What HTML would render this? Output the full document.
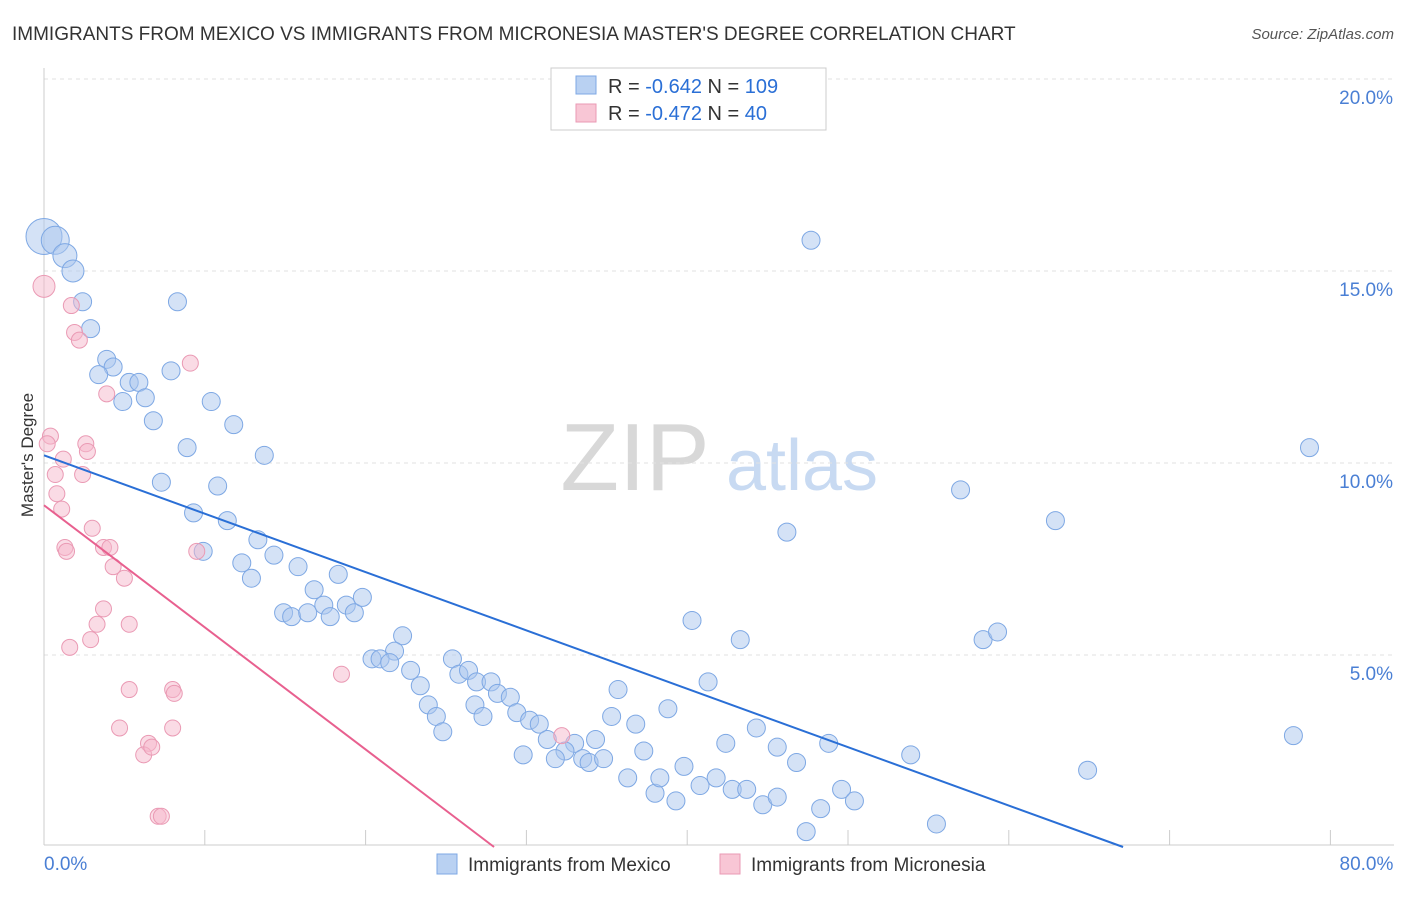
<!DOCTYPE html>
<html><head><meta charset="utf-8"><style>
body{margin:0;background:#fff;font-family:"Liberation Sans",sans-serif;}
svg text{font-family:"Liberation Sans",sans-serif;}
</style></head><body>
<svg id="chart" width="1406" height="892" viewBox="0 0 1406 892">
<text x="12" y="40" font-size="19" fill="#333">IMMIGRANTS FROM MEXICO VS IMMIGRANTS FROM MICRONESIA MASTER'S DEGREE CORRELATION CHART</text>
<text x="1394" y="39" font-size="15" fill="#555" text-anchor="end" font-style="italic">Source: ZipAtlas.com</text>
<text transform="translate(33,455) rotate(-90)" font-size="17" fill="#333" text-anchor="middle">Master's Degree</text>
<g>
<text x="635" y="490" font-size="96" fill="#d8d8d8" text-anchor="middle" font-family="Liberation Serif, serif">ZIP</text>
<text x="802" y="490" font-size="72" fill="#c8daf2" text-anchor="middle">atlas</text>
</g>
<g id="grid"></g><g id="axes"></g><g id="pts"></g><g id="lines"></g>
<g>
<rect x="551" y="68" width="275" height="62" fill="#fff" stroke="#ccc"/>
<rect x="576" y="76" width="20" height="18" fill="#b9d1f2" stroke="#7ea8e4"/>
<rect x="576" y="104" width="20" height="18" fill="#f8c6d5" stroke="#ea9ab4"/>
<text x="608" y="93" font-size="20" fill="#333">R = <tspan fill="#2a6fd6">-0.642</tspan>   N = <tspan fill="#2a6fd6">109</tspan></text>
<text x="608" y="120" font-size="20" fill="#333">R = <tspan fill="#2a6fd6">-0.472</tspan>   N =  <tspan fill="#2a6fd6"> 40</tspan></text>
</g>
<g>
<rect x="437" y="854" width="20" height="20" fill="#b9d1f2" stroke="#7ea8e4"/>
<text x="468" y="871" font-size="19" fill="#333">Immigrants from Mexico</text>
<rect x="720" y="854" width="20" height="20" fill="#f8c6d5" stroke="#ea9ab4"/>
<text x="751" y="871" font-size="19" fill="#333">Immigrants from Micronesia</text>
</g>
</svg>
<script>
const xTicks=[0,10,20,30,40,50,60,70,80];
const yTicks=[5,10,15,20];
const mexX=[0.0,0.7,1.3,1.8,2.4,2.9,3.9,4.3,3.4,5.3,5.9,4.9,6.3,8.3,7.9,6.8,10.4,11.8,8.9,13.7,7.3,10.8,9.3,11.4,9.9,13.3,12.3,12.9,14.3,15.8,16.8,18.3,14.9,15.4,16.4,17.4,17.8,18.8,19.3,19.8,22.3,21.8,20.4,20.9,21.5,22.8,23.4,25.4,25.8,26.4,23.9,24.4,24.8,26.9,27.8,28.2,29.0,26.8,27.3,29.4,30.2,30.8,31.3,33.0,32.4,31.8,29.8,33.5,33.9,34.3,34.8,35.3,35.7,36.8,37.3,36.3,38.0,38.3,39.3,39.8,38.8,40.3,41.3,40.8,41.8,42.4,42.8,43.7,44.3,43.3,44.7,45.6,45.6,46.8,47.4,48.3,48.8,49.6,50.4,47.7,46.2,53.9,55.5,57.0,58.4,59.3,62.9,64.9,77.7,78.7];
const mexY=[15.9,15.8,15.4,15.0,14.2,13.5,12.7,12.5,12.3,12.1,12.1,11.6,11.7,14.2,12.4,11.1,11.6,11.0,10.4,10.2,9.5,9.4,8.7,8.5,7.7,8.0,7.4,7.0,7.6,7.3,6.7,7.1,6.1,6.0,6.1,6.3,6.0,6.3,6.1,6.5,5.5,5.1,4.9,4.9,4.8,4.6,4.2,4.9,4.5,4.6,3.7,3.4,3.0,4.3,4.3,4.0,3.9,3.7,3.4,3.5,3.3,3.2,2.8,2.7,2.5,2.3,2.4,2.3,2.2,2.8,2.3,3.4,4.1,3.2,2.5,1.8,1.4,1.8,1.2,2.1,3.6,5.9,4.3,1.6,1.8,2.7,1.5,1.5,3.1,5.4,1.1,1.3,2.6,2.2,0.4,1.0,2.7,1.5,1.2,15.8,8.2,2.4,0.6,9.3,5.4,5.6,8.5,2.0,2.9,10.4];
const micX=[0.0,1.7,1.9,2.2,9.1,3.9,0.4,0.2,2.6,2.7,1.2,2.4,0.7,0.8,1.1,3.0,1.3,1.4,3.7,4.1,4.3,5.0,9.5,3.7,3.3,5.3,2.9,1.6,18.5,5.3,8.0,8.1,4.7,8.0,6.5,6.2,6.7,32.2,7.1,7.3];
const micY=[14.6,14.1,13.4,13.2,12.6,11.8,10.7,10.5,10.5,10.3,10.1,9.7,9.7,9.2,8.8,8.3,7.8,7.7,7.8,7.8,7.3,7.0,7.7,6.2,5.8,5.8,5.4,5.2,4.5,4.1,4.1,4.0,3.1,3.1,2.7,2.4,2.6,2.9,0.8,0.8];
const mexTrend=[10.2,-0.152];
const micTrend=[8.9,-0.318];
const X=v=>44+v*16.08, Y=v=>847-v*38.4;
const NS='http://www.w3.org/2000/svg';
function mk(p,t,a){const e=document.createElementNS(NS,t);for(const k in a)e.setAttribute(k,a[k]);p.appendChild(e);return e;}
const grid=document.getElementById('grid'),axes=document.getElementById('axes'),pts=document.getElementById('pts'),lines=document.getElementById('lines');
yTicks.forEach(v=>{
 const l=mk(grid,'line',{x1:44,x2:1394,y1:Y(v),y2:Y(v),stroke:'#e2e2e2','stroke-dasharray':'4,4'});
 
 
 const t=mk(axes,'text',{x:1393,y:Y(v)+25,'font-size':19,fill:'#4a7fd4','text-anchor':'end'});
 t.textContent=v.toFixed(1)+'%';
 
 
});
mk(axes,'line',{x1:44,x2:44,y1:68,y2:845,stroke:'#ccc'});
mk(axes,'line',{x1:44,x2:1394,y1:845,y2:845,stroke:'#ccc'});
xTicks.forEach(v=>{
 const l=mk(axes,'line',{x1:X(v),x2:X(v),y1:830,y2:845,stroke:'#ccc'});
 
 
});
[[0,'start'],[80,'end']].forEach(([v,a])=>{
 const t=mk(axes,'text',{x:v?X(v)+63:X(v),y:870,'font-size':19,fill:'#4a7fd4','text-anchor':a});
 t.textContent=v.toFixed(1)+'%';
 
 
});
mexX.forEach((x,i)=>{
 const r=i==0?18:i==1?14:i==2?12:i==3?11:9;
 const c=mk(pts,'circle',{cx:X(x),cy:Y(mexY[i]),r:r,fill:'rgba(169,198,238,0.5)',stroke:'#7ea8e4','stroke-width':1});
 
 
});
micX.forEach((x,i)=>{
 const c=mk(pts,'circle',{cx:X(x),cy:Y(micY[i]),r:i==0?11:8,fill:'rgba(245,184,203,0.5)',stroke:'#ea9ab4','stroke-width':1});
 
 
});
const x1=-mexTrend[0]/mexTrend[1];
const l1=mk(lines,'line',{x1:X(0),y1:Y(mexTrend[0]),x2:X(x1),y2:Y(0),stroke:'#2a6fd6','stroke-width':2});


const x2=-micTrend[0]/micTrend[1];
const l2=mk(lines,'line',{x1:X(0),y1:Y(micTrend[0]),x2:X(x2),y2:Y(0),stroke:'#e8608f','stroke-width':2});


</script>
</body></html>
